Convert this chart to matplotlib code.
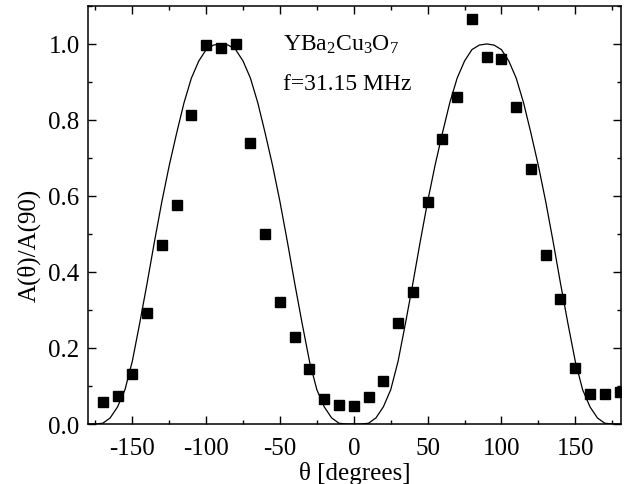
import matplotlib
matplotlib.use("Agg")
import matplotlib.pyplot as plt
from matplotlib.ticker import MultipleLocator, FormatStrFormatter

plt.rcParams["font.family"] = ["Liberation Serif", "DejaVu Serif"]
plt.rcParams["mathtext.fontset"] = "custom"
plt.rcParams["mathtext.rm"] = "Liberation Serif"
plt.rcParams["mathtext.it"] = "Liberation Serif:italic"
plt.rcParams["axes.unicode_minus"] = False

# measured points, A(theta)/A(90)
theta = [-170, -160, -150, -140, -130, -120, -110, -100, -90, -80, -70, -60,
         -50, -40, -30, -20, -10, 0, 10, 20, 30, 40, 50, 60, 70, 80, 90, 100,
         110, 120, 130, 140, 150, 160, 170, 180]
amp = [0.057, 0.075, 0.132, 0.293, 0.472, 0.576, 0.812, 0.998, 0.990, 0.999,
       0.740, 0.500, 0.320, 0.230, 0.145, 0.066, 0.050, 0.047, 0.070, 0.113,
       0.265, 0.348, 0.585, 0.750, 0.860, 1.065, 0.965, 0.960, 0.835, 0.670,
       0.445, 0.328, 0.147, 0.080, 0.080, 0.083]

# model curve, every 5 degrees
fit_theta = [-180, -175, -170, -165, -160, -155, -150, -145, -140, -135, -130,
             -125, -120, -115, -110, -105, -100, -95, -90, -85, -80, -75, -70,
             -65, -60, -55, -50, -45, -40, -35, -30, -25, -20, -15, -10, -5, 0,
             5, 10, 15, 20, 25, 30, 35, 40, 45, 50, 55, 60, 65, 70, 75, 80, 85,
             90, 95, 100, 105, 110, 115, 120, 125, 130, 135, 140, 145, 150, 155,
             160, 165, 170, 175, 180]
fit_amp = [0.0, 0.0, 0.002, 0.016, 0.045, 0.09, 0.165, 0.265, 0.37, 0.48,
           0.585, 0.68, 0.765, 0.845, 0.91, 0.955, 0.985, 0.997, 1.0,
           0.997, 0.985, 0.955, 0.91, 0.845, 0.765, 0.68, 0.585, 0.48, 0.37,
           0.265, 0.165, 0.09, 0.045, 0.016, 0.002, 0.0, 0.0,
           0.0, 0.002, 0.016, 0.045, 0.09, 0.165, 0.265, 0.37, 0.48, 0.585,
           0.68, 0.765, 0.845, 0.91, 0.955, 0.985, 0.997, 1.0,
           0.997, 0.985, 0.955, 0.91, 0.845, 0.765, 0.68, 0.585, 0.48, 0.37,
           0.265, 0.165, 0.09, 0.045, 0.016, 0.002, 0.0, 0.0]

fig = plt.figure(figsize=(6.26, 4.85), dpi=100)
ax = fig.add_axes([0.1406, 0.1237, 0.851, 0.862])

ax.plot(fit_theta, fit_amp, color="black", lw=0.9)
ax.plot(theta, amp, "s", color="black", ms=7, mec="black")

ax.set_xlim(-180, 180.8)
ax.set_ylim(0, 1.1)
ax.xaxis.set_major_locator(MultipleLocator(50))
ax.xaxis.set_minor_locator(MultipleLocator(25))
ax.yaxis.set_major_locator(MultipleLocator(0.2))
ax.yaxis.set_minor_locator(MultipleLocator(0.1))
ax.yaxis.set_major_formatter(FormatStrFormatter("%.1f"))
ax.tick_params(which="both", direction="in", top=True, right=True,
               labelsize=18, width=1.0)
ax.tick_params(which="major", length=6)
ax.tick_params(axis="y", which="major", pad=6)
ax.tick_params(axis="x", which="major", pad=9)
ax.tick_params(which="minor", length=3)
for s in ax.spines.values():
    s.set_linewidth(1.1)

ax.set_xlabel("θ [degrees]", fontsize=18)
ax.set_ylabel("A(θ)/A(90)", fontsize=18)
ax.xaxis.set_label_coords(0.5, -0.088)
ax.yaxis.set_label_coords(-0.089, 0.43)

ax.text(-48, 1.0, r"YBa$_2$Cu$_3$O$_7$", fontsize=17, va="center", ha="left")
ax.text(-48, 0.895, "f=31.15 MHz", fontsize=17, va="center", ha="left")

fig.savefig("out.png", dpi=100)
